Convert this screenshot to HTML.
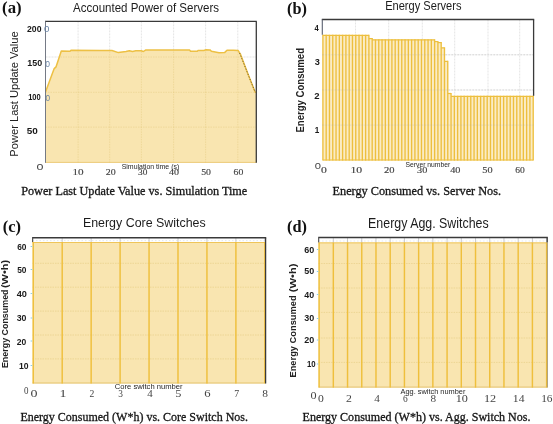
<!DOCTYPE html>
<html><head><meta charset="utf-8"><style>
html,body{margin:0;padding:0;background:#fff;width:553px;height:424px;overflow:hidden}
</style></head><body>
<svg width="553" height="424" viewBox="0 0 553 424" style="display:block;will-change:transform">
<rect width="553" height="424" fill="#ffffff"/>
<line x1="78.1" y1="21.4" x2="78.1" y2="162.8" stroke="#e2e2e2" stroke-width="0.9" stroke-dasharray="2,1"/>
<line x1="109.7" y1="21.4" x2="109.7" y2="162.8" stroke="#e2e2e2" stroke-width="0.9" stroke-dasharray="2,1"/>
<line x1="141.4" y1="21.4" x2="141.4" y2="162.8" stroke="#e2e2e2" stroke-width="0.9" stroke-dasharray="2,1"/>
<line x1="173.6" y1="21.4" x2="173.6" y2="162.8" stroke="#e2e2e2" stroke-width="0.9" stroke-dasharray="2,1"/>
<line x1="205.6" y1="21.4" x2="205.6" y2="162.8" stroke="#e2e2e2" stroke-width="0.9" stroke-dasharray="2,1"/>
<line x1="237.8" y1="21.4" x2="237.8" y2="162.8" stroke="#e2e2e2" stroke-width="0.9" stroke-dasharray="2,1"/>
<line x1="45.5" y1="57.0" x2="256.3" y2="57.0" stroke="#e2e2e2" stroke-width="0.9" stroke-dasharray="2,1"/>
<line x1="45.5" y1="92.3" x2="256.3" y2="92.3" stroke="#e2e2e2" stroke-width="0.9" stroke-dasharray="2,1"/>
<line x1="45.5" y1="127.1" x2="256.3" y2="127.1" stroke="#e2e2e2" stroke-width="0.9" stroke-dasharray="2,1"/>
<polygon points="45.6,91.7 54.2,68.6 56.0,66.9 61.3,51.1 70,51.3 71,50.3 100,50.4 112,50.5 118.4,52.6 126,51.5 129.3,50.7 132.5,51.5 135.8,50.8 141.2,50.8 143.4,51.5 145.5,50.1 189.7,50.1 190.5,51.2 197.3,51.2 198,50.5 203.8,50.5 206,49.8 210,49.9 211.4,51.3 219,52.7 224.8,52.4 227,50.2 233.3,50.2 238.2,50.6 240.4,54.1 247.4,72.5 255.2,92.3 256,92.3 256.3,162.8 45.5,162.8" fill="#f9e5b0"/>
<clipPath id="clipA"><polygon points="45.6,91.7 54.2,68.6 56.0,66.9 61.3,51.1 70,51.3 71,50.3 100,50.4 112,50.5 118.4,52.6 126,51.5 129.3,50.7 132.5,51.5 135.8,50.8 141.2,50.8 143.4,51.5 145.5,50.1 189.7,50.1 190.5,51.2 197.3,51.2 198,50.5 203.8,50.5 206,49.8 210,49.9 211.4,51.3 219,52.7 224.8,52.4 227,50.2 233.3,50.2 238.2,50.6 240.4,54.1 247.4,72.5 255.2,92.3 256,92.3 256.3,162.8 45.5,162.8"/></clipPath>
<g clip-path="url(#clipA)">
<line x1="78.1" y1="21.4" x2="78.1" y2="162.8" stroke="#dcc070" stroke-opacity="0.45" stroke-width="0.8" stroke-dasharray="1.5,1"/>
<line x1="109.7" y1="21.4" x2="109.7" y2="162.8" stroke="#dcc070" stroke-opacity="0.45" stroke-width="0.8" stroke-dasharray="1.5,1"/>
<line x1="141.4" y1="21.4" x2="141.4" y2="162.8" stroke="#dcc070" stroke-opacity="0.45" stroke-width="0.8" stroke-dasharray="1.5,1"/>
<line x1="173.6" y1="21.4" x2="173.6" y2="162.8" stroke="#dcc070" stroke-opacity="0.45" stroke-width="0.8" stroke-dasharray="1.5,1"/>
<line x1="205.6" y1="21.4" x2="205.6" y2="162.8" stroke="#dcc070" stroke-opacity="0.45" stroke-width="0.8" stroke-dasharray="1.5,1"/>
<line x1="237.8" y1="21.4" x2="237.8" y2="162.8" stroke="#dcc070" stroke-opacity="0.45" stroke-width="0.8" stroke-dasharray="1.5,1"/>
<line x1="45.5" y1="57.0" x2="256.3" y2="57.0" stroke="#dcc070" stroke-opacity="0.45" stroke-width="0.8" stroke-dasharray="1.5,1"/>
<line x1="45.5" y1="92.3" x2="256.3" y2="92.3" stroke="#dcc070" stroke-opacity="0.45" stroke-width="0.8" stroke-dasharray="1.5,1"/>
<line x1="45.5" y1="127.1" x2="256.3" y2="127.1" stroke="#dcc070" stroke-opacity="0.45" stroke-width="0.8" stroke-dasharray="1.5,1"/>
</g>
<polyline points="45.6,91.7 54.2,68.6 56.0,66.9 61.3,51.1 70,51.3 71,50.3 100,50.4 112,50.5 118.4,52.6 126,51.5 129.3,50.7 132.5,51.5 135.8,50.8 141.2,50.8 143.4,51.5 145.5,50.1 189.7,50.1 190.5,51.2 197.3,51.2 198,50.5 203.8,50.5 206,49.8 210,49.9 211.4,51.3 219,52.7 224.8,52.4 227,50.2 233.3,50.2 238.2,50.6 240.4,54.1 247.4,72.5 255.2,92.3 256,92.3" fill="none" stroke="#edc044" stroke-width="1.5" stroke-linejoin="round"/>
<line x1="239.6" y1="53.0" x2="255.0" y2="91.8" stroke="#6a5a30" stroke-width="0.9" stroke-dasharray="1.2,1.6"/>
<line x1="45.5" y1="162.4" x2="256.3" y2="162.4" stroke="#e8c46a" stroke-width="0.8"/>
<line x1="45.0" y1="21.4" x2="256.8" y2="21.4" stroke="#3a3a3a" stroke-width="1.3"/>
<line x1="256.3" y1="21.4" x2="256.3" y2="162.8" stroke="#3a3a3a" stroke-width="1.3"/>
<line x1="45.5" y1="21.4" x2="45.5" y2="162.8" stroke="#6e7380" stroke-width="0.95"/>
<line x1="355.5" y1="19.5" x2="355.5" y2="160.6" stroke="#e2e2e2" stroke-width="0.9" stroke-dasharray="2,1"/>
<line x1="388.7" y1="19.5" x2="388.7" y2="160.6" stroke="#e2e2e2" stroke-width="0.9" stroke-dasharray="2,1"/>
<line x1="422.3" y1="19.5" x2="422.3" y2="160.6" stroke="#e2e2e2" stroke-width="0.9" stroke-dasharray="2,1"/>
<line x1="454.7" y1="19.5" x2="454.7" y2="160.6" stroke="#e2e2e2" stroke-width="0.9" stroke-dasharray="2,1"/>
<line x1="488.0" y1="19.5" x2="488.0" y2="160.6" stroke="#e2e2e2" stroke-width="0.9" stroke-dasharray="2,1"/>
<line x1="519.7" y1="19.5" x2="519.7" y2="160.6" stroke="#e2e2e2" stroke-width="0.9" stroke-dasharray="2,1"/>
<line x1="322.3" y1="54.8" x2="533.6" y2="54.8" stroke="#e2e2e2" stroke-width="0.9" stroke-dasharray="2,1"/>
<line x1="322.3" y1="90.0" x2="533.6" y2="90.0" stroke="#e2e2e2" stroke-width="0.9" stroke-dasharray="2,1"/>
<line x1="322.3" y1="125.1" x2="533.6" y2="125.1" stroke="#e2e2e2" stroke-width="0.9" stroke-dasharray="2,1"/>
<rect x="322.900" y="34.8" width="3.286" height="125.80" fill="#fbecc4"/>
<rect x="326.186" y="34.8" width="3.286" height="125.80" fill="#fbecc4"/>
<rect x="329.472" y="34.8" width="3.286" height="125.80" fill="#fbecc4"/>
<rect x="332.758" y="34.8" width="3.286" height="125.80" fill="#fbecc4"/>
<rect x="336.044" y="34.8" width="3.286" height="125.80" fill="#fbecc4"/>
<rect x="339.330" y="34.8" width="3.286" height="125.80" fill="#fbecc4"/>
<rect x="342.616" y="34.8" width="3.286" height="125.80" fill="#fbecc4"/>
<rect x="345.902" y="34.8" width="3.286" height="125.80" fill="#fbecc4"/>
<rect x="349.188" y="34.8" width="3.286" height="125.80" fill="#fbecc4"/>
<rect x="352.474" y="34.8" width="3.286" height="125.80" fill="#fbecc4"/>
<rect x="355.760" y="34.8" width="3.286" height="125.80" fill="#fbecc4"/>
<rect x="359.046" y="34.8" width="3.286" height="125.80" fill="#fbecc4"/>
<rect x="362.332" y="34.8" width="3.286" height="125.80" fill="#fbecc4"/>
<rect x="365.618" y="34.8" width="3.286" height="125.80" fill="#fbecc4"/>
<rect x="368.904" y="38.0" width="3.286" height="122.60" fill="#fbecc4"/>
<rect x="372.190" y="39.3" width="3.286" height="121.30" fill="#fbecc4"/>
<rect x="375.476" y="39.3" width="3.286" height="121.30" fill="#fbecc4"/>
<rect x="378.762" y="39.3" width="3.286" height="121.30" fill="#fbecc4"/>
<rect x="382.048" y="39.3" width="3.286" height="121.30" fill="#fbecc4"/>
<rect x="385.334" y="39.3" width="3.286" height="121.30" fill="#fbecc4"/>
<rect x="388.620" y="39.3" width="3.286" height="121.30" fill="#fbecc4"/>
<rect x="391.906" y="39.3" width="3.286" height="121.30" fill="#fbecc4"/>
<rect x="395.192" y="39.3" width="3.286" height="121.30" fill="#fbecc4"/>
<rect x="398.478" y="39.3" width="3.286" height="121.30" fill="#fbecc4"/>
<rect x="401.764" y="39.3" width="3.286" height="121.30" fill="#fbecc4"/>
<rect x="405.050" y="39.3" width="3.286" height="121.30" fill="#fbecc4"/>
<rect x="408.336" y="39.3" width="3.286" height="121.30" fill="#fbecc4"/>
<rect x="411.622" y="39.3" width="3.286" height="121.30" fill="#fbecc4"/>
<rect x="414.908" y="39.3" width="3.286" height="121.30" fill="#fbecc4"/>
<rect x="418.194" y="39.3" width="3.286" height="121.30" fill="#fbecc4"/>
<rect x="421.480" y="39.3" width="3.286" height="121.30" fill="#fbecc4"/>
<rect x="424.766" y="39.3" width="3.286" height="121.30" fill="#fbecc4"/>
<rect x="428.052" y="39.3" width="3.286" height="121.30" fill="#fbecc4"/>
<rect x="431.338" y="39.3" width="3.286" height="121.30" fill="#fbecc4"/>
<rect x="434.624" y="41.0" width="3.286" height="119.60" fill="#fbecc4"/>
<rect x="437.910" y="42.0" width="3.286" height="118.60" fill="#fbecc4"/>
<rect x="441.196" y="47.3" width="3.286" height="113.30" fill="#fbecc4"/>
<rect x="444.482" y="60.8" width="3.286" height="99.80" fill="#fbecc4"/>
<rect x="447.768" y="92.9" width="3.286" height="67.70" fill="#fbecc4"/>
<rect x="451.054" y="95.8" width="3.286" height="64.80" fill="#fbecc4"/>
<rect x="454.340" y="95.8" width="3.286" height="64.80" fill="#fbecc4"/>
<rect x="457.626" y="95.8" width="3.286" height="64.80" fill="#fbecc4"/>
<rect x="460.912" y="95.8" width="3.286" height="64.80" fill="#fbecc4"/>
<rect x="464.198" y="95.8" width="3.286" height="64.80" fill="#fbecc4"/>
<rect x="467.484" y="95.8" width="3.286" height="64.80" fill="#fbecc4"/>
<rect x="470.770" y="95.8" width="3.286" height="64.80" fill="#fbecc4"/>
<rect x="474.056" y="95.8" width="3.286" height="64.80" fill="#fbecc4"/>
<rect x="477.342" y="95.8" width="3.286" height="64.80" fill="#fbecc4"/>
<rect x="480.628" y="95.8" width="3.286" height="64.80" fill="#fbecc4"/>
<rect x="483.914" y="95.8" width="3.286" height="64.80" fill="#fbecc4"/>
<rect x="487.200" y="95.8" width="3.286" height="64.80" fill="#fbecc4"/>
<rect x="490.486" y="95.8" width="3.286" height="64.80" fill="#fbecc4"/>
<rect x="493.772" y="95.8" width="3.286" height="64.80" fill="#fbecc4"/>
<rect x="497.058" y="95.8" width="3.286" height="64.80" fill="#fbecc4"/>
<rect x="500.344" y="95.8" width="3.286" height="64.80" fill="#fbecc4"/>
<rect x="503.630" y="95.8" width="3.286" height="64.80" fill="#fbecc4"/>
<rect x="506.916" y="95.8" width="3.286" height="64.80" fill="#fbecc4"/>
<rect x="510.202" y="95.8" width="3.286" height="64.80" fill="#fbecc4"/>
<rect x="513.488" y="95.8" width="3.286" height="64.80" fill="#fbecc4"/>
<rect x="516.774" y="95.8" width="3.286" height="64.80" fill="#fbecc4"/>
<rect x="520.060" y="95.8" width="3.286" height="64.80" fill="#fbecc4"/>
<rect x="523.346" y="95.8" width="3.286" height="64.80" fill="#fbecc4"/>
<rect x="526.632" y="95.8" width="3.286" height="64.80" fill="#fbecc4"/>
<rect x="529.918" y="95.8" width="3.286" height="64.80" fill="#fbecc4"/>
<line x1="322.900" y1="35.4" x2="326.186" y2="35.4" stroke="#edbf3e" stroke-width="1.2"/>
<line x1="326.186" y1="35.4" x2="329.472" y2="35.4" stroke="#edbf3e" stroke-width="1.2"/>
<line x1="329.472" y1="35.4" x2="332.758" y2="35.4" stroke="#edbf3e" stroke-width="1.2"/>
<line x1="332.758" y1="35.4" x2="336.044" y2="35.4" stroke="#edbf3e" stroke-width="1.2"/>
<line x1="336.044" y1="35.4" x2="339.330" y2="35.4" stroke="#edbf3e" stroke-width="1.2"/>
<line x1="339.330" y1="35.4" x2="342.616" y2="35.4" stroke="#edbf3e" stroke-width="1.2"/>
<line x1="342.616" y1="35.4" x2="345.902" y2="35.4" stroke="#edbf3e" stroke-width="1.2"/>
<line x1="345.902" y1="35.4" x2="349.188" y2="35.4" stroke="#edbf3e" stroke-width="1.2"/>
<line x1="349.188" y1="35.4" x2="352.474" y2="35.4" stroke="#edbf3e" stroke-width="1.2"/>
<line x1="352.474" y1="35.4" x2="355.760" y2="35.4" stroke="#edbf3e" stroke-width="1.2"/>
<line x1="355.760" y1="35.4" x2="359.046" y2="35.4" stroke="#edbf3e" stroke-width="1.2"/>
<line x1="359.046" y1="35.4" x2="362.332" y2="35.4" stroke="#edbf3e" stroke-width="1.2"/>
<line x1="362.332" y1="35.4" x2="365.618" y2="35.4" stroke="#edbf3e" stroke-width="1.2"/>
<line x1="365.618" y1="35.4" x2="368.904" y2="35.4" stroke="#edbf3e" stroke-width="1.2"/>
<line x1="368.904" y1="38.6" x2="372.190" y2="38.6" stroke="#edbf3e" stroke-width="1.2"/>
<line x1="372.190" y1="39.9" x2="375.476" y2="39.9" stroke="#edbf3e" stroke-width="1.2"/>
<line x1="375.476" y1="39.9" x2="378.762" y2="39.9" stroke="#edbf3e" stroke-width="1.2"/>
<line x1="378.762" y1="39.9" x2="382.048" y2="39.9" stroke="#edbf3e" stroke-width="1.2"/>
<line x1="382.048" y1="39.9" x2="385.334" y2="39.9" stroke="#edbf3e" stroke-width="1.2"/>
<line x1="385.334" y1="39.9" x2="388.620" y2="39.9" stroke="#edbf3e" stroke-width="1.2"/>
<line x1="388.620" y1="39.9" x2="391.906" y2="39.9" stroke="#edbf3e" stroke-width="1.2"/>
<line x1="391.906" y1="39.9" x2="395.192" y2="39.9" stroke="#edbf3e" stroke-width="1.2"/>
<line x1="395.192" y1="39.9" x2="398.478" y2="39.9" stroke="#edbf3e" stroke-width="1.2"/>
<line x1="398.478" y1="39.9" x2="401.764" y2="39.9" stroke="#edbf3e" stroke-width="1.2"/>
<line x1="401.764" y1="39.9" x2="405.050" y2="39.9" stroke="#edbf3e" stroke-width="1.2"/>
<line x1="405.050" y1="39.9" x2="408.336" y2="39.9" stroke="#edbf3e" stroke-width="1.2"/>
<line x1="408.336" y1="39.9" x2="411.622" y2="39.9" stroke="#edbf3e" stroke-width="1.2"/>
<line x1="411.622" y1="39.9" x2="414.908" y2="39.9" stroke="#edbf3e" stroke-width="1.2"/>
<line x1="414.908" y1="39.9" x2="418.194" y2="39.9" stroke="#edbf3e" stroke-width="1.2"/>
<line x1="418.194" y1="39.9" x2="421.480" y2="39.9" stroke="#edbf3e" stroke-width="1.2"/>
<line x1="421.480" y1="39.9" x2="424.766" y2="39.9" stroke="#edbf3e" stroke-width="1.2"/>
<line x1="424.766" y1="39.9" x2="428.052" y2="39.9" stroke="#edbf3e" stroke-width="1.2"/>
<line x1="428.052" y1="39.9" x2="431.338" y2="39.9" stroke="#edbf3e" stroke-width="1.2"/>
<line x1="431.338" y1="39.9" x2="434.624" y2="39.9" stroke="#edbf3e" stroke-width="1.2"/>
<line x1="434.624" y1="41.6" x2="437.910" y2="41.6" stroke="#edbf3e" stroke-width="1.2"/>
<line x1="437.910" y1="42.6" x2="441.196" y2="42.6" stroke="#edbf3e" stroke-width="1.2"/>
<line x1="441.196" y1="47.9" x2="444.482" y2="47.9" stroke="#edbf3e" stroke-width="1.2"/>
<line x1="444.482" y1="61.4" x2="447.768" y2="61.4" stroke="#edbf3e" stroke-width="1.2"/>
<line x1="447.768" y1="93.5" x2="451.054" y2="93.5" stroke="#edbf3e" stroke-width="1.2"/>
<line x1="451.054" y1="96.39999999999999" x2="454.340" y2="96.39999999999999" stroke="#edbf3e" stroke-width="1.2"/>
<line x1="454.340" y1="96.39999999999999" x2="457.626" y2="96.39999999999999" stroke="#edbf3e" stroke-width="1.2"/>
<line x1="457.626" y1="96.39999999999999" x2="460.912" y2="96.39999999999999" stroke="#edbf3e" stroke-width="1.2"/>
<line x1="460.912" y1="96.39999999999999" x2="464.198" y2="96.39999999999999" stroke="#edbf3e" stroke-width="1.2"/>
<line x1="464.198" y1="96.39999999999999" x2="467.484" y2="96.39999999999999" stroke="#edbf3e" stroke-width="1.2"/>
<line x1="467.484" y1="96.39999999999999" x2="470.770" y2="96.39999999999999" stroke="#edbf3e" stroke-width="1.2"/>
<line x1="470.770" y1="96.39999999999999" x2="474.056" y2="96.39999999999999" stroke="#edbf3e" stroke-width="1.2"/>
<line x1="474.056" y1="96.39999999999999" x2="477.342" y2="96.39999999999999" stroke="#edbf3e" stroke-width="1.2"/>
<line x1="477.342" y1="96.39999999999999" x2="480.628" y2="96.39999999999999" stroke="#edbf3e" stroke-width="1.2"/>
<line x1="480.628" y1="96.39999999999999" x2="483.914" y2="96.39999999999999" stroke="#edbf3e" stroke-width="1.2"/>
<line x1="483.914" y1="96.39999999999999" x2="487.200" y2="96.39999999999999" stroke="#edbf3e" stroke-width="1.2"/>
<line x1="487.200" y1="96.39999999999999" x2="490.486" y2="96.39999999999999" stroke="#edbf3e" stroke-width="1.2"/>
<line x1="490.486" y1="96.39999999999999" x2="493.772" y2="96.39999999999999" stroke="#edbf3e" stroke-width="1.2"/>
<line x1="493.772" y1="96.39999999999999" x2="497.058" y2="96.39999999999999" stroke="#edbf3e" stroke-width="1.2"/>
<line x1="497.058" y1="96.39999999999999" x2="500.344" y2="96.39999999999999" stroke="#edbf3e" stroke-width="1.2"/>
<line x1="500.344" y1="96.39999999999999" x2="503.630" y2="96.39999999999999" stroke="#edbf3e" stroke-width="1.2"/>
<line x1="503.630" y1="96.39999999999999" x2="506.916" y2="96.39999999999999" stroke="#edbf3e" stroke-width="1.2"/>
<line x1="506.916" y1="96.39999999999999" x2="510.202" y2="96.39999999999999" stroke="#edbf3e" stroke-width="1.2"/>
<line x1="510.202" y1="96.39999999999999" x2="513.488" y2="96.39999999999999" stroke="#edbf3e" stroke-width="1.2"/>
<line x1="513.488" y1="96.39999999999999" x2="516.774" y2="96.39999999999999" stroke="#edbf3e" stroke-width="1.2"/>
<line x1="516.774" y1="96.39999999999999" x2="520.060" y2="96.39999999999999" stroke="#edbf3e" stroke-width="1.2"/>
<line x1="520.060" y1="96.39999999999999" x2="523.346" y2="96.39999999999999" stroke="#edbf3e" stroke-width="1.2"/>
<line x1="523.346" y1="96.39999999999999" x2="526.632" y2="96.39999999999999" stroke="#edbf3e" stroke-width="1.2"/>
<line x1="526.632" y1="96.39999999999999" x2="529.918" y2="96.39999999999999" stroke="#edbf3e" stroke-width="1.2"/>
<line x1="529.918" y1="96.39999999999999" x2="533.204" y2="96.39999999999999" stroke="#edbf3e" stroke-width="1.2"/>
<line x1="322.900" y1="34.8" x2="322.900" y2="160.6" stroke="#edbf3e" stroke-width="1.35"/>
<line x1="326.186" y1="34.8" x2="326.186" y2="160.6" stroke="#edbf3e" stroke-width="1.35"/>
<line x1="329.472" y1="34.8" x2="329.472" y2="160.6" stroke="#edbf3e" stroke-width="1.35"/>
<line x1="332.758" y1="34.8" x2="332.758" y2="160.6" stroke="#edbf3e" stroke-width="1.35"/>
<line x1="336.044" y1="34.8" x2="336.044" y2="160.6" stroke="#edbf3e" stroke-width="1.35"/>
<line x1="339.330" y1="34.8" x2="339.330" y2="160.6" stroke="#edbf3e" stroke-width="1.35"/>
<line x1="342.616" y1="34.8" x2="342.616" y2="160.6" stroke="#edbf3e" stroke-width="1.35"/>
<line x1="345.902" y1="34.8" x2="345.902" y2="160.6" stroke="#edbf3e" stroke-width="1.35"/>
<line x1="349.188" y1="34.8" x2="349.188" y2="160.6" stroke="#edbf3e" stroke-width="1.35"/>
<line x1="352.474" y1="34.8" x2="352.474" y2="160.6" stroke="#edbf3e" stroke-width="1.35"/>
<line x1="355.760" y1="34.8" x2="355.760" y2="160.6" stroke="#edbf3e" stroke-width="1.35"/>
<line x1="359.046" y1="34.8" x2="359.046" y2="160.6" stroke="#edbf3e" stroke-width="1.35"/>
<line x1="362.332" y1="34.8" x2="362.332" y2="160.6" stroke="#edbf3e" stroke-width="1.35"/>
<line x1="365.618" y1="34.8" x2="365.618" y2="160.6" stroke="#edbf3e" stroke-width="1.35"/>
<line x1="368.904" y1="34.8" x2="368.904" y2="160.6" stroke="#edbf3e" stroke-width="1.35"/>
<line x1="372.190" y1="38.0" x2="372.190" y2="160.6" stroke="#edbf3e" stroke-width="1.35"/>
<line x1="375.476" y1="39.3" x2="375.476" y2="160.6" stroke="#edbf3e" stroke-width="1.35"/>
<line x1="378.762" y1="39.3" x2="378.762" y2="160.6" stroke="#edbf3e" stroke-width="1.35"/>
<line x1="382.048" y1="39.3" x2="382.048" y2="160.6" stroke="#edbf3e" stroke-width="1.35"/>
<line x1="385.334" y1="39.3" x2="385.334" y2="160.6" stroke="#edbf3e" stroke-width="1.35"/>
<line x1="388.620" y1="39.3" x2="388.620" y2="160.6" stroke="#edbf3e" stroke-width="1.35"/>
<line x1="391.906" y1="39.3" x2="391.906" y2="160.6" stroke="#edbf3e" stroke-width="1.35"/>
<line x1="395.192" y1="39.3" x2="395.192" y2="160.6" stroke="#edbf3e" stroke-width="1.35"/>
<line x1="398.478" y1="39.3" x2="398.478" y2="160.6" stroke="#edbf3e" stroke-width="1.35"/>
<line x1="401.764" y1="39.3" x2="401.764" y2="160.6" stroke="#edbf3e" stroke-width="1.35"/>
<line x1="405.050" y1="39.3" x2="405.050" y2="160.6" stroke="#edbf3e" stroke-width="1.35"/>
<line x1="408.336" y1="39.3" x2="408.336" y2="160.6" stroke="#edbf3e" stroke-width="1.35"/>
<line x1="411.622" y1="39.3" x2="411.622" y2="160.6" stroke="#edbf3e" stroke-width="1.35"/>
<line x1="414.908" y1="39.3" x2="414.908" y2="160.6" stroke="#edbf3e" stroke-width="1.35"/>
<line x1="418.194" y1="39.3" x2="418.194" y2="160.6" stroke="#edbf3e" stroke-width="1.35"/>
<line x1="421.480" y1="39.3" x2="421.480" y2="160.6" stroke="#edbf3e" stroke-width="1.35"/>
<line x1="424.766" y1="39.3" x2="424.766" y2="160.6" stroke="#edbf3e" stroke-width="1.35"/>
<line x1="428.052" y1="39.3" x2="428.052" y2="160.6" stroke="#edbf3e" stroke-width="1.35"/>
<line x1="431.338" y1="39.3" x2="431.338" y2="160.6" stroke="#edbf3e" stroke-width="1.35"/>
<line x1="434.624" y1="39.3" x2="434.624" y2="160.6" stroke="#edbf3e" stroke-width="1.35"/>
<line x1="437.910" y1="41.0" x2="437.910" y2="160.6" stroke="#edbf3e" stroke-width="1.35"/>
<line x1="441.196" y1="42.0" x2="441.196" y2="160.6" stroke="#edbf3e" stroke-width="1.35"/>
<line x1="444.482" y1="47.3" x2="444.482" y2="160.6" stroke="#edbf3e" stroke-width="1.35"/>
<line x1="447.768" y1="60.8" x2="447.768" y2="160.6" stroke="#edbf3e" stroke-width="1.35"/>
<line x1="451.054" y1="92.9" x2="451.054" y2="160.6" stroke="#edbf3e" stroke-width="1.35"/>
<line x1="454.340" y1="95.8" x2="454.340" y2="160.6" stroke="#edbf3e" stroke-width="1.35"/>
<line x1="457.626" y1="95.8" x2="457.626" y2="160.6" stroke="#edbf3e" stroke-width="1.35"/>
<line x1="460.912" y1="95.8" x2="460.912" y2="160.6" stroke="#edbf3e" stroke-width="1.35"/>
<line x1="464.198" y1="95.8" x2="464.198" y2="160.6" stroke="#edbf3e" stroke-width="1.35"/>
<line x1="467.484" y1="95.8" x2="467.484" y2="160.6" stroke="#edbf3e" stroke-width="1.35"/>
<line x1="470.770" y1="95.8" x2="470.770" y2="160.6" stroke="#edbf3e" stroke-width="1.35"/>
<line x1="474.056" y1="95.8" x2="474.056" y2="160.6" stroke="#edbf3e" stroke-width="1.35"/>
<line x1="477.342" y1="95.8" x2="477.342" y2="160.6" stroke="#edbf3e" stroke-width="1.35"/>
<line x1="480.628" y1="95.8" x2="480.628" y2="160.6" stroke="#edbf3e" stroke-width="1.35"/>
<line x1="483.914" y1="95.8" x2="483.914" y2="160.6" stroke="#edbf3e" stroke-width="1.35"/>
<line x1="487.200" y1="95.8" x2="487.200" y2="160.6" stroke="#edbf3e" stroke-width="1.35"/>
<line x1="490.486" y1="95.8" x2="490.486" y2="160.6" stroke="#edbf3e" stroke-width="1.35"/>
<line x1="493.772" y1="95.8" x2="493.772" y2="160.6" stroke="#edbf3e" stroke-width="1.35"/>
<line x1="497.058" y1="95.8" x2="497.058" y2="160.6" stroke="#edbf3e" stroke-width="1.35"/>
<line x1="500.344" y1="95.8" x2="500.344" y2="160.6" stroke="#edbf3e" stroke-width="1.35"/>
<line x1="503.630" y1="95.8" x2="503.630" y2="160.6" stroke="#edbf3e" stroke-width="1.35"/>
<line x1="506.916" y1="95.8" x2="506.916" y2="160.6" stroke="#edbf3e" stroke-width="1.35"/>
<line x1="510.202" y1="95.8" x2="510.202" y2="160.6" stroke="#edbf3e" stroke-width="1.35"/>
<line x1="513.488" y1="95.8" x2="513.488" y2="160.6" stroke="#edbf3e" stroke-width="1.35"/>
<line x1="516.774" y1="95.8" x2="516.774" y2="160.6" stroke="#edbf3e" stroke-width="1.35"/>
<line x1="520.060" y1="95.8" x2="520.060" y2="160.6" stroke="#edbf3e" stroke-width="1.35"/>
<line x1="523.346" y1="95.8" x2="523.346" y2="160.6" stroke="#edbf3e" stroke-width="1.35"/>
<line x1="526.632" y1="95.8" x2="526.632" y2="160.6" stroke="#edbf3e" stroke-width="1.35"/>
<line x1="529.918" y1="95.8" x2="529.918" y2="160.6" stroke="#edbf3e" stroke-width="1.35"/>
<line x1="533.204" y1="95.8" x2="533.204" y2="160.6" stroke="#edbf3e" stroke-width="1.35"/>
<line x1="322.9" y1="160.04999999999998" x2="533.204" y2="160.04999999999998" stroke="#edbf3e" stroke-width="1.1"/>
<line x1="322.3" y1="54.8" x2="533.6" y2="54.8" stroke="#b0b0b0" stroke-opacity="0.35" stroke-width="0.8" stroke-dasharray="2,1"/>
<line x1="322.3" y1="90.0" x2="533.6" y2="90.0" stroke="#b0b0b0" stroke-opacity="0.35" stroke-width="0.8" stroke-dasharray="2,1"/>
<line x1="322.3" y1="125.1" x2="533.6" y2="125.1" stroke="#b0b0b0" stroke-opacity="0.35" stroke-width="0.8" stroke-dasharray="2,1"/>
<line x1="321.8" y1="19.5" x2="534.2" y2="19.5" stroke="#3a3a3a" stroke-width="1.3"/>
<line x1="533.6" y1="19.5" x2="533.6" y2="95.8" stroke="#3a3a3a" stroke-width="1.3"/>
<line x1="322.3" y1="19.5" x2="322.3" y2="34.8" stroke="#5a6070" stroke-width="1.1"/>
<rect x="32.5" y="242.0" width="232.35" height="141.50" fill="#f9e5b0"/>
<line x1="32.5" y1="263.3" x2="264.85" y2="263.3" stroke="#dcc070" stroke-opacity="0.55" stroke-width="0.8" stroke-dasharray="1.5,1"/>
<line x1="32.5" y1="287.2" x2="264.85" y2="287.2" stroke="#dcc070" stroke-opacity="0.55" stroke-width="0.8" stroke-dasharray="1.5,1"/>
<line x1="32.5" y1="311.1" x2="264.85" y2="311.1" stroke="#dcc070" stroke-opacity="0.55" stroke-width="0.8" stroke-dasharray="1.5,1"/>
<line x1="32.5" y1="335.0" x2="264.85" y2="335.0" stroke="#dcc070" stroke-opacity="0.55" stroke-width="0.8" stroke-dasharray="1.5,1"/>
<line x1="32.5" y1="358.9" x2="264.85" y2="358.9" stroke="#dcc070" stroke-opacity="0.55" stroke-width="0.8" stroke-dasharray="1.5,1"/>
<line x1="32.5" y1="240.6" x2="265.60" y2="240.6" stroke="#d8e0ea" stroke-width="0.7" stroke-dasharray="1.5,2"/>
<line x1="32.5" y1="242.5" x2="264.85" y2="242.5" stroke="#efc55a" stroke-width="1.0"/>
<line x1="32.5" y1="383.0" x2="264.85" y2="383.0" stroke="#e2c06a" stroke-width="0.9"/>
<line x1="33.25" y1="242.0" x2="33.25" y2="383.5" stroke="#efbf3c" stroke-width="1.45"/>
<line x1="33.25" y1="237.7" x2="33.25" y2="242.0" stroke="#b4b4b4" stroke-width="0.7"/>
<line x1="62.20" y1="242.0" x2="62.20" y2="383.5" stroke="#efbf3c" stroke-width="1.45"/>
<line x1="62.20" y1="237.7" x2="62.20" y2="242.0" stroke="#b4b4b4" stroke-width="0.7"/>
<line x1="91.15" y1="242.0" x2="91.15" y2="383.5" stroke="#efbf3c" stroke-width="1.45"/>
<line x1="91.15" y1="237.7" x2="91.15" y2="242.0" stroke="#b4b4b4" stroke-width="0.7"/>
<line x1="120.10" y1="242.0" x2="120.10" y2="383.5" stroke="#efbf3c" stroke-width="1.45"/>
<line x1="120.10" y1="237.7" x2="120.10" y2="242.0" stroke="#b4b4b4" stroke-width="0.7"/>
<line x1="149.05" y1="242.0" x2="149.05" y2="383.5" stroke="#efbf3c" stroke-width="1.45"/>
<line x1="149.05" y1="237.7" x2="149.05" y2="242.0" stroke="#b4b4b4" stroke-width="0.7"/>
<line x1="178.00" y1="242.0" x2="178.00" y2="383.5" stroke="#efbf3c" stroke-width="1.45"/>
<line x1="178.00" y1="237.7" x2="178.00" y2="242.0" stroke="#b4b4b4" stroke-width="0.7"/>
<line x1="206.95" y1="242.0" x2="206.95" y2="383.5" stroke="#efbf3c" stroke-width="1.45"/>
<line x1="206.95" y1="237.7" x2="206.95" y2="242.0" stroke="#b4b4b4" stroke-width="0.7"/>
<line x1="235.90" y1="242.0" x2="235.90" y2="383.5" stroke="#efbf3c" stroke-width="1.45"/>
<line x1="235.90" y1="237.7" x2="235.90" y2="242.0" stroke="#b4b4b4" stroke-width="0.7"/>
<line x1="264.85" y1="242.0" x2="264.85" y2="383.5" stroke="#efbf3c" stroke-width="1.45"/>
<line x1="264.85" y1="237.7" x2="264.85" y2="242.0" stroke="#b4b4b4" stroke-width="0.7"/>
<line x1="32.1" y1="237.7" x2="266.20000000000005" y2="237.7" stroke="#3a3a3a" stroke-width="1.35"/>
<line x1="265.6" y1="237.7" x2="265.6" y2="383.5" stroke="#3a3a3a" stroke-width="1.3"/>
<line x1="32.5" y1="237.7" x2="32.5" y2="242.0" stroke="#555" stroke-width="1"/>
<line x1="30.6" y1="246.5" x2="32.2" y2="246.5" stroke="#8fd0e8" stroke-width="1"/>
<line x1="30.6" y1="269.5" x2="32.2" y2="269.5" stroke="#8fd0e8" stroke-width="1"/>
<line x1="30.6" y1="293.5" x2="32.2" y2="293.5" stroke="#8fd0e8" stroke-width="1"/>
<line x1="30.6" y1="318.0" x2="32.2" y2="318.0" stroke="#8fd0e8" stroke-width="1"/>
<line x1="30.6" y1="341.0" x2="32.2" y2="341.0" stroke="#8fd0e8" stroke-width="1"/>
<line x1="30.6" y1="365.5" x2="32.2" y2="365.5" stroke="#8fd0e8" stroke-width="1"/>
<rect x="318.6" y="242.4" width="228.02" height="145.20" fill="#f9e5b0"/>
<line x1="318.6" y1="263.5" x2="546.62" y2="263.5" stroke="#dcc070" stroke-opacity="0.55" stroke-width="0.8" stroke-dasharray="1.5,1"/>
<line x1="318.6" y1="288.0" x2="546.62" y2="288.0" stroke="#dcc070" stroke-opacity="0.55" stroke-width="0.8" stroke-dasharray="1.5,1"/>
<line x1="318.6" y1="312.4" x2="546.62" y2="312.4" stroke="#dcc070" stroke-opacity="0.55" stroke-width="0.8" stroke-dasharray="1.5,1"/>
<line x1="318.6" y1="338.0" x2="546.62" y2="338.0" stroke="#dcc070" stroke-opacity="0.55" stroke-width="0.8" stroke-dasharray="1.5,1"/>
<line x1="318.6" y1="362.4" x2="546.62" y2="362.4" stroke="#dcc070" stroke-opacity="0.55" stroke-width="0.8" stroke-dasharray="1.5,1"/>
<line x1="318.6" y1="241.0" x2="547.20" y2="241.0" stroke="#d8e0ea" stroke-width="0.7" stroke-dasharray="1.5,2"/>
<line x1="318.6" y1="242.9" x2="546.62" y2="242.9" stroke="#efc55a" stroke-width="1.0"/>
<line x1="318.6" y1="387.1" x2="546.62" y2="387.1" stroke="#e2c06a" stroke-width="0.9"/>
<line x1="319.10" y1="242.4" x2="319.10" y2="387.6" stroke="#efbf3c" stroke-width="1.45"/>
<line x1="319.10" y1="237.5" x2="319.10" y2="242.4" stroke="#b4b4b4" stroke-width="0.7"/>
<line x1="333.32" y1="242.4" x2="333.32" y2="387.6" stroke="#efbf3c" stroke-width="1.45"/>
<line x1="333.32" y1="237.5" x2="333.32" y2="242.4" stroke="#b4b4b4" stroke-width="0.7"/>
<line x1="347.54" y1="242.4" x2="347.54" y2="387.6" stroke="#efbf3c" stroke-width="1.45"/>
<line x1="347.54" y1="237.5" x2="347.54" y2="242.4" stroke="#b4b4b4" stroke-width="0.7"/>
<line x1="361.76" y1="242.4" x2="361.76" y2="387.6" stroke="#efbf3c" stroke-width="1.45"/>
<line x1="361.76" y1="237.5" x2="361.76" y2="242.4" stroke="#b4b4b4" stroke-width="0.7"/>
<line x1="375.98" y1="242.4" x2="375.98" y2="387.6" stroke="#efbf3c" stroke-width="1.45"/>
<line x1="375.98" y1="237.5" x2="375.98" y2="242.4" stroke="#b4b4b4" stroke-width="0.7"/>
<line x1="390.20" y1="242.4" x2="390.20" y2="387.6" stroke="#efbf3c" stroke-width="1.45"/>
<line x1="390.20" y1="237.5" x2="390.20" y2="242.4" stroke="#b4b4b4" stroke-width="0.7"/>
<line x1="404.42" y1="242.4" x2="404.42" y2="387.6" stroke="#efbf3c" stroke-width="1.45"/>
<line x1="404.42" y1="237.5" x2="404.42" y2="242.4" stroke="#b4b4b4" stroke-width="0.7"/>
<line x1="418.64" y1="242.4" x2="418.64" y2="387.6" stroke="#efbf3c" stroke-width="1.45"/>
<line x1="418.64" y1="237.5" x2="418.64" y2="242.4" stroke="#b4b4b4" stroke-width="0.7"/>
<line x1="432.86" y1="242.4" x2="432.86" y2="387.6" stroke="#efbf3c" stroke-width="1.45"/>
<line x1="432.86" y1="237.5" x2="432.86" y2="242.4" stroke="#b4b4b4" stroke-width="0.7"/>
<line x1="447.08" y1="242.4" x2="447.08" y2="387.6" stroke="#efbf3c" stroke-width="1.45"/>
<line x1="447.08" y1="237.5" x2="447.08" y2="242.4" stroke="#b4b4b4" stroke-width="0.7"/>
<line x1="461.30" y1="242.4" x2="461.30" y2="387.6" stroke="#efbf3c" stroke-width="1.45"/>
<line x1="461.30" y1="237.5" x2="461.30" y2="242.4" stroke="#b4b4b4" stroke-width="0.7"/>
<line x1="475.52" y1="242.4" x2="475.52" y2="387.6" stroke="#efbf3c" stroke-width="1.45"/>
<line x1="475.52" y1="237.5" x2="475.52" y2="242.4" stroke="#b4b4b4" stroke-width="0.7"/>
<line x1="489.74" y1="242.4" x2="489.74" y2="387.6" stroke="#efbf3c" stroke-width="1.45"/>
<line x1="489.74" y1="237.5" x2="489.74" y2="242.4" stroke="#b4b4b4" stroke-width="0.7"/>
<line x1="503.96" y1="242.4" x2="503.96" y2="387.6" stroke="#efbf3c" stroke-width="1.45"/>
<line x1="503.96" y1="237.5" x2="503.96" y2="242.4" stroke="#b4b4b4" stroke-width="0.7"/>
<line x1="518.18" y1="242.4" x2="518.18" y2="387.6" stroke="#efbf3c" stroke-width="1.45"/>
<line x1="518.18" y1="237.5" x2="518.18" y2="242.4" stroke="#b4b4b4" stroke-width="0.7"/>
<line x1="532.40" y1="242.4" x2="532.40" y2="387.6" stroke="#efbf3c" stroke-width="1.45"/>
<line x1="532.40" y1="237.5" x2="532.40" y2="242.4" stroke="#b4b4b4" stroke-width="0.7"/>
<line x1="546.62" y1="242.4" x2="546.62" y2="387.6" stroke="#efbf3c" stroke-width="1.45"/>
<line x1="546.62" y1="237.5" x2="546.62" y2="242.4" stroke="#b4b4b4" stroke-width="0.7"/>
<line x1="318.20000000000005" y1="237.5" x2="547.8000000000001" y2="237.5" stroke="#3a3a3a" stroke-width="1.35"/>
<line x1="547.2" y1="237.5" x2="547.2" y2="242.4" stroke="#3a3a3a" stroke-width="1.3"/>
<line x1="547.4000000000001" y1="242.4" x2="547.4000000000001" y2="387.6" stroke="#8a7c5a" stroke-opacity="0.8" stroke-width="0.9"/>
<line x1="318.6" y1="237.5" x2="318.6" y2="242.4" stroke="#555" stroke-width="1"/>
<line x1="316.79999999999995" y1="249.5" x2="318.4" y2="249.5" stroke="#8fd0e8" stroke-width="1"/>
<line x1="316.79999999999995" y1="271.5" x2="318.4" y2="271.5" stroke="#8fd0e8" stroke-width="1"/>
<line x1="316.79999999999995" y1="294.5" x2="318.4" y2="294.5" stroke="#8fd0e8" stroke-width="1"/>
<line x1="316.79999999999995" y1="318.5" x2="318.4" y2="318.5" stroke="#8fd0e8" stroke-width="1"/>
<line x1="316.79999999999995" y1="340.0" x2="318.4" y2="340.0" stroke="#8fd0e8" stroke-width="1"/>
<line x1="316.79999999999995" y1="364.0" x2="318.4" y2="364.0" stroke="#8fd0e8" stroke-width="1"/>
<text id="pa" x="2.12" y="13.46" font-family='"Liberation Serif", serif' font-size="15.8" font-weight="bold" fill="#111111" textLength="19.57" lengthAdjust="spacingAndGlyphs">(a)</text>
<text id="pb" x="287.09" y="14.46" font-family='"Liberation Serif", serif' font-size="15.8" font-weight="bold" fill="#111111" textLength="19.93" lengthAdjust="spacingAndGlyphs">(b)</text>
<text id="pc" x="2.69" y="232.06" font-family='"Liberation Serif", serif' font-size="15.8" font-weight="bold" fill="#111111" textLength="18.28" lengthAdjust="spacingAndGlyphs">(c)</text>
<text id="pd" x="287.09" y="232.06" font-family='"Liberation Serif", serif' font-size="15.8" font-weight="bold" fill="#111111" textLength="19.93" lengthAdjust="spacingAndGlyphs">(d)</text>
<text id="ta" x="73.03" y="12.22" font-family='"Liberation Sans", sans-serif' font-size="12.6" font-weight="normal" fill="#1c1c1c" textLength="146.07" lengthAdjust="spacingAndGlyphs">Accounted Power of Servers</text>
<text id="tb" x="385.15" y="9.90" font-family='"Liberation Sans", sans-serif' font-size="13.0" font-weight="normal" fill="#1c1c1c" textLength="76.38" lengthAdjust="spacingAndGlyphs">Energy Servers</text>
<text id="tc" x="82.90" y="227.19" font-family='"Liberation Sans", sans-serif' font-size="13.7" font-weight="normal" fill="#1c1c1c" textLength="122.82" lengthAdjust="spacingAndGlyphs">Energy Core Switches</text>
<text id="td" x="368.10" y="227.86" font-family='"Liberation Sans", sans-serif' font-size="13.8" font-weight="normal" fill="#1c1c1c" textLength="120.61" lengthAdjust="spacingAndGlyphs">Energy Agg. Switches</text>
<text id="ca" x="21.19" y="194.74" font-family='"Liberation Serif", serif' font-size="12.2" font-weight="normal" fill="#161616" stroke="#161616" stroke-width="0.3" textLength="226.10" lengthAdjust="spacingAndGlyphs">Power Last Update Value vs. Simulation Time</text>
<text id="cb" x="332.57" y="194.60" font-family='"Liberation Serif", serif' font-size="12.0" font-weight="normal" fill="#161616" stroke="#161616" stroke-width="0.3" textLength="168.45" lengthAdjust="spacingAndGlyphs">Energy Consumed vs. Server Nos.</text>
<text id="cc" x="20.41" y="420.54" font-family='"Liberation Serif", serif' font-size="12.2" font-weight="normal" fill="#161616" stroke="#161616" stroke-width="0.3" textLength="227.59" lengthAdjust="spacingAndGlyphs">Energy Consumed (W*h) vs. Core Switch Nos.</text>
<text id="cd" x="302.58" y="420.66" font-family='"Liberation Serif", serif' font-size="11.8" font-weight="normal" fill="#161616" stroke="#161616" stroke-width="0.3" textLength="227.94" lengthAdjust="spacingAndGlyphs">Energy Consumed (W*h) vs. Agg. Switch Nos.</text>
<text id="ya" transform="translate(18.16,156.63) rotate(-90)" x="0" y="0" font-family='"Liberation Sans", sans-serif' font-size="10.8" font-weight="normal" fill="#222222" textLength="125.19" lengthAdjust="spacingAndGlyphs">Power Last Update Value</text>
<text id="yb" transform="translate(304.30,132.54) rotate(-90)" x="0" y="0" font-family='"Liberation Sans", sans-serif' font-size="11.0" font-weight="bold" fill="#222222" textLength="84.57" lengthAdjust="spacingAndGlyphs">Energy Consumed</text>
<text id="yc" transform="translate(7.95,368.08) rotate(-90)" x="0" y="0" font-family='"Liberation Sans", sans-serif' font-size="9.8" font-weight="bold" fill="#222222" textLength="78.64" lengthAdjust="spacingAndGlyphs">Energy Consumed</text>
<text id="yc2" transform="translate(7.95,288.02) rotate(-90)" x="0" y="0" font-family='"Liberation Sans", sans-serif' font-size="9.8" font-weight="bold" fill="#222222" textLength="28.10" lengthAdjust="spacingAndGlyphs">(W•h)</text>
<text id="yd" transform="translate(295.90,377.54) rotate(-90)" x="0" y="0" font-family='"Liberation Sans", sans-serif' font-size="9.6" font-weight="bold" fill="#222222" textLength="82.15" lengthAdjust="spacingAndGlyphs">Energy Consumed</text>
<text id="yd2" transform="translate(295.90,292.26) rotate(-90)" x="0" y="0" font-family='"Liberation Sans", sans-serif' font-size="9.6" font-weight="bold" fill="#222222" textLength="28.67" lengthAdjust="spacingAndGlyphs">(W•h)</text>
<text id="xa" x="121.70" y="169.28" font-family='"Liberation Sans", sans-serif' font-size="6.4" font-weight="normal" fill="#262626" textLength="57.58" lengthAdjust="spacingAndGlyphs">Simulation time (s)</text>
<text id="xb" x="405.49" y="166.61" font-family='"Liberation Sans", sans-serif' font-size="6.3" font-weight="normal" fill="#262626" textLength="44.81" lengthAdjust="spacingAndGlyphs">Server number</text>
<text id="xc" x="114.80" y="389.30" font-family='"Liberation Sans", sans-serif' font-size="7.0" font-weight="normal" fill="#262626" textLength="67.81" lengthAdjust="spacingAndGlyphs">Core switch number</text>
<text id="xd" x="400.56" y="393.94" font-family='"Liberation Sans", sans-serif' font-size="7.2" font-weight="normal" fill="#262626" textLength="64.82" lengthAdjust="spacingAndGlyphs">Agg. switch number</text>
<text id="ya200" x="27.06" y="31.88" font-family='"Liberation Sans", sans-serif' font-size="8.4" font-weight="bold" fill="#1a1a1a" textLength="14.48" lengthAdjust="spacingAndGlyphs">200</text>
<text id="ya150" x="27.29" y="66.28" font-family='"Liberation Sans", sans-serif' font-size="8.4" font-weight="bold" fill="#1a1a1a" textLength="14.90" lengthAdjust="spacingAndGlyphs">150</text>
<text id="ya100" x="28.13" y="100.08" font-family='"Liberation Sans", sans-serif' font-size="8.4" font-weight="bold" fill="#1a1a1a" textLength="12.57" lengthAdjust="spacingAndGlyphs">100</text>
<text id="ya50" x="26.79" y="133.88" font-family='"Liberation Sans", sans-serif' font-size="8.4" font-weight="bold" fill="#1a1a1a" textLength="11.11" lengthAdjust="spacingAndGlyphs">50</text>
<text id="ya0" x="36.51" y="170.28" font-family='"Liberation Sans", sans-serif' font-size="8.4" font-weight="normal" fill="#444444" textLength="6.97" lengthAdjust="spacingAndGlyphs">0</text>
<text id="xa10" x="72.48" y="175.16" font-family='"Liberation Serif", serif' font-size="8.8" font-weight="normal" fill="#444444" stroke="#444444" stroke-width="0.15" textLength="11.15" lengthAdjust="spacingAndGlyphs">10</text>
<text id="xa20" x="105.76" y="175.16" font-family='"Liberation Serif", serif' font-size="8.8" font-weight="normal" fill="#444444" stroke="#444444" stroke-width="0.15" textLength="9.91" lengthAdjust="spacingAndGlyphs">20</text>
<text id="xa30" x="138.00" y="175.16" font-family='"Liberation Serif", serif' font-size="8.8" font-weight="normal" fill="#444444" stroke="#444444" stroke-width="0.15" textLength="9.31" lengthAdjust="spacingAndGlyphs">30</text>
<text id="xa40" x="169.00" y="175.16" font-family='"Liberation Serif", serif' font-size="8.8" font-weight="normal" fill="#444444" stroke="#444444" stroke-width="0.15" textLength="10.04" lengthAdjust="spacingAndGlyphs">40</text>
<text id="xa50" x="201.21" y="175.16" font-family='"Liberation Serif", serif' font-size="8.8" font-weight="normal" fill="#444444" stroke="#444444" stroke-width="0.15" textLength="9.78" lengthAdjust="spacingAndGlyphs">50</text>
<text id="xa60" x="233.50" y="175.16" font-family='"Liberation Serif", serif' font-size="8.8" font-weight="normal" fill="#444444" stroke="#444444" stroke-width="0.15" textLength="9.76" lengthAdjust="spacingAndGlyphs">60</text>
<text id="yb4" x="314.48" y="30.68" font-family='"Liberation Sans", sans-serif' font-size="8.4" font-weight="bold" fill="#1a1a1a" textLength="4.24" lengthAdjust="spacingAndGlyphs">4</text>
<text id="yb3" x="314.69" y="65.08" font-family='"Liberation Sans", sans-serif' font-size="8.4" font-weight="bold" fill="#1a1a1a" textLength="5.11" lengthAdjust="spacingAndGlyphs">3</text>
<text id="yb2" x="314.39" y="98.88" font-family='"Liberation Sans", sans-serif' font-size="8.4" font-weight="bold" fill="#1a1a1a" textLength="5.30" lengthAdjust="spacingAndGlyphs">2</text>
<text id="yb1" x="314.85" y="132.68" font-family='"Liberation Sans", sans-serif' font-size="8.4" font-weight="bold" fill="#1a1a1a" textLength="4.53" lengthAdjust="spacingAndGlyphs">1</text>
<text id="yb0" x="314.67" y="169.48" font-family='"Liberation Sans", sans-serif' font-size="8.4" font-weight="normal" fill="#444444" textLength="6.24" lengthAdjust="spacingAndGlyphs">0</text>
<text id="xb0" x="321.11" y="173.41" font-family='"Liberation Serif", serif' font-size="8.3" font-weight="normal" fill="#444444" stroke="#444444" stroke-width="0.15" textLength="5.84" lengthAdjust="spacingAndGlyphs">0</text>
<text id="xb10" x="350.50" y="173.41" font-family='"Liberation Serif", serif' font-size="8.3" font-weight="normal" fill="#444444" stroke="#444444" stroke-width="0.15" textLength="11.72" lengthAdjust="spacingAndGlyphs">10</text>
<text id="xb20" x="384.07" y="173.41" font-family='"Liberation Serif", serif' font-size="8.3" font-weight="normal" fill="#444444" stroke="#444444" stroke-width="0.15" textLength="10.52" lengthAdjust="spacingAndGlyphs">20</text>
<text id="xb30" x="417.07" y="173.41" font-family='"Liberation Serif", serif' font-size="8.3" font-weight="normal" fill="#444444" stroke="#444444" stroke-width="0.15" textLength="10.25" lengthAdjust="spacingAndGlyphs">30</text>
<text id="xb40" x="450.19" y="173.41" font-family='"Liberation Serif", serif' font-size="8.3" font-weight="normal" fill="#444444" stroke="#444444" stroke-width="0.15" textLength="10.25" lengthAdjust="spacingAndGlyphs">40</text>
<text id="xb50" x="482.25" y="173.41" font-family='"Liberation Serif", serif' font-size="8.3" font-weight="normal" fill="#444444" stroke="#444444" stroke-width="0.15" textLength="10.28" lengthAdjust="spacingAndGlyphs">50</text>
<text id="xb60" x="515.35" y="173.41" font-family='"Liberation Serif", serif' font-size="8.3" font-weight="normal" fill="#444444" stroke="#444444" stroke-width="0.15" textLength="9.51" lengthAdjust="spacingAndGlyphs">60</text>
<text id="yc60" x="17.17" y="250.42" font-family='"Liberation Sans", sans-serif' font-size="8.6" font-weight="bold" fill="#1a1a1a" textLength="9.29" lengthAdjust="spacingAndGlyphs">60</text>
<text id="yc50" x="17.17" y="272.62" font-family='"Liberation Sans", sans-serif' font-size="8.6" font-weight="bold" fill="#1a1a1a" textLength="9.29" lengthAdjust="spacingAndGlyphs">50</text>
<text id="yc40" x="16.71" y="296.82" font-family='"Liberation Sans", sans-serif' font-size="8.6" font-weight="bold" fill="#1a1a1a" textLength="10.22" lengthAdjust="spacingAndGlyphs">40</text>
<text id="yc30" x="16.65" y="321.22" font-family='"Liberation Sans", sans-serif' font-size="8.6" font-weight="bold" fill="#1a1a1a" textLength="9.75" lengthAdjust="spacingAndGlyphs">30</text>
<text id="yc20" x="16.86" y="344.62" font-family='"Liberation Sans", sans-serif' font-size="8.6" font-weight="bold" fill="#1a1a1a" textLength="9.49" lengthAdjust="spacingAndGlyphs">20</text>
<text id="yc10" x="18.95" y="369.02" font-family='"Liberation Sans", sans-serif' font-size="8.6" font-weight="bold" fill="#1a1a1a" textLength="9.57" lengthAdjust="spacingAndGlyphs">10</text>
<text id="yc0" x="24.06" y="393.78" font-family='"Liberation Serif", serif' font-size="9.4" font-weight="normal" fill="#444444" textLength="4.49" lengthAdjust="spacingAndGlyphs">0</text>
<text id="xc0" x="30.48" y="397.18" font-family='"Liberation Serif", serif' font-size="9.4" font-weight="normal" fill="#444444" textLength="7.01" lengthAdjust="spacingAndGlyphs">0</text>
<text id="xc1" x="59.53" y="397.18" font-family='"Liberation Serif", serif' font-size="9.4" font-weight="normal" fill="#444444" textLength="7.00" lengthAdjust="spacingAndGlyphs">1</text>
<text id="xc2" x="89.47" y="397.18" font-family='"Liberation Serif", serif' font-size="9.4" font-weight="normal" fill="#444444" textLength="4.83" lengthAdjust="spacingAndGlyphs">2</text>
<text id="xc3" x="118.21" y="397.18" font-family='"Liberation Serif", serif' font-size="9.4" font-weight="normal" fill="#444444" textLength="4.67" lengthAdjust="spacingAndGlyphs">3</text>
<text id="xc4" x="147.16" y="397.18" font-family='"Liberation Serif", serif' font-size="9.4" font-weight="normal" fill="#444444" textLength="5.48" lengthAdjust="spacingAndGlyphs">4</text>
<text id="xc5" x="175.22" y="397.18" font-family='"Liberation Serif", serif' font-size="9.4" font-weight="normal" fill="#444444" textLength="6.11" lengthAdjust="spacingAndGlyphs">5</text>
<text id="xc6" x="204.19" y="397.18" font-family='"Liberation Serif", serif' font-size="9.4" font-weight="normal" fill="#444444" textLength="6.32" lengthAdjust="spacingAndGlyphs">6</text>
<text id="xc7" x="234.21" y="397.18" font-family='"Liberation Serif", serif' font-size="9.4" font-weight="normal" fill="#444444" textLength="4.89" lengthAdjust="spacingAndGlyphs">7</text>
<text id="xc8" x="262.15" y="397.18" font-family='"Liberation Serif", serif' font-size="9.4" font-weight="normal" fill="#444444" textLength="5.72" lengthAdjust="spacingAndGlyphs">8</text>
<text id="yd60" x="304.27" y="252.76" font-family='"Liberation Sans", sans-serif' font-size="8.8" font-weight="bold" fill="#1a1a1a" textLength="9.99" lengthAdjust="spacingAndGlyphs">60</text>
<text id="yd50" x="304.27" y="274.36" font-family='"Liberation Sans", sans-serif' font-size="8.8" font-weight="bold" fill="#1a1a1a" textLength="9.99" lengthAdjust="spacingAndGlyphs">50</text>
<text id="yd40" x="304.30" y="297.56" font-family='"Liberation Sans", sans-serif' font-size="8.8" font-weight="bold" fill="#1a1a1a" textLength="9.87" lengthAdjust="spacingAndGlyphs">40</text>
<text id="yd30" x="304.27" y="321.36" font-family='"Liberation Sans", sans-serif' font-size="8.8" font-weight="bold" fill="#1a1a1a" textLength="9.99" lengthAdjust="spacingAndGlyphs">30</text>
<text id="yd20" x="304.27" y="342.76" font-family='"Liberation Sans", sans-serif' font-size="8.8" font-weight="bold" fill="#1a1a1a" textLength="9.99" lengthAdjust="spacingAndGlyphs">20</text>
<text id="yd10" x="307.00" y="367.16" font-family='"Liberation Sans", sans-serif' font-size="8.8" font-weight="bold" fill="#1a1a1a" textLength="8.72" lengthAdjust="spacingAndGlyphs">10</text>
<text id="yd0" x="310.46" y="398.58" font-family='"Liberation Serif", serif' font-size="9.4" font-weight="normal" fill="#444444" textLength="6.07" lengthAdjust="spacingAndGlyphs">0</text>
<text id="xd0" x="318.00" y="402.18" font-family='"Liberation Serif", serif' font-size="9.4" font-weight="normal" fill="#444444" textLength="5.83" lengthAdjust="spacingAndGlyphs">0</text>
<text id="xd2" x="346.00" y="402.18" font-family='"Liberation Serif", serif' font-size="9.4" font-weight="normal" fill="#444444" textLength="5.86" lengthAdjust="spacingAndGlyphs">2</text>
<text id="xd4" x="374.19" y="402.18" font-family='"Liberation Serif", serif' font-size="9.4" font-weight="normal" fill="#444444" textLength="5.59" lengthAdjust="spacingAndGlyphs">4</text>
<text id="xd6" x="403.00" y="402.18" font-family='"Liberation Serif", serif' font-size="9.4" font-weight="normal" fill="#444444" textLength="4.69" lengthAdjust="spacingAndGlyphs">6</text>
<text id="xd8" x="430.63" y="402.18" font-family='"Liberation Serif", serif' font-size="9.4" font-weight="normal" fill="#444444" textLength="5.60" lengthAdjust="spacingAndGlyphs">8</text>
<text id="xd10" x="455.70" y="402.18" font-family='"Liberation Serif", serif' font-size="9.4" font-weight="normal" fill="#444444" textLength="12.18" lengthAdjust="spacingAndGlyphs">10</text>
<text id="xd12" x="483.97" y="402.18" font-family='"Liberation Serif", serif' font-size="9.4" font-weight="normal" fill="#444444" textLength="12.23" lengthAdjust="spacingAndGlyphs">12</text>
<text id="xd14" x="512.84" y="402.18" font-family='"Liberation Serif", serif' font-size="9.4" font-weight="normal" fill="#444444" textLength="11.70" lengthAdjust="spacingAndGlyphs">14</text>
<text id="xd16" x="541.15" y="402.18" font-family='"Liberation Serif", serif' font-size="9.4" font-weight="normal" fill="#444444" textLength="11.40" lengthAdjust="spacingAndGlyphs">16</text>
<text id="bz0" x="44.10" y="32.02" font-family='"Liberation Sans", sans-serif' font-size="8.6" font-weight="normal" fill="#6a84a6" textLength="5.40" lengthAdjust="spacingAndGlyphs">0</text>
<text id="bz1" x="45.35" y="66.82" font-family='"Liberation Sans", sans-serif' font-size="8.6" font-weight="normal" fill="#6a84a6" textLength="4.73" lengthAdjust="spacingAndGlyphs">0</text>
<text id="bz2" x="45.46" y="100.82" font-family='"Liberation Sans", sans-serif' font-size="8.6" font-weight="normal" fill="#6a84a6" textLength="4.57" lengthAdjust="spacingAndGlyphs">0</text>
</svg>
</body></html>
